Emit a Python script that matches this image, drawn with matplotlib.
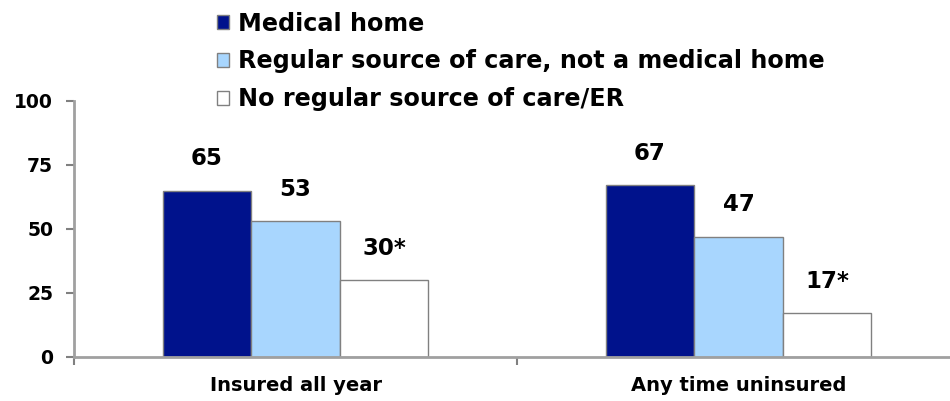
import numpy as np
import matplotlib.pyplot as plt
from matplotlib.patches import Patch

categories = ["Insured all year", "Any time uninsured"]
series = ["Medical home", "Regular source of care, not a medical home",
          "No regular source of care/ER"]
medical_home = [65, 67]
regular_source = [53, 47]
no_regular = [30, 17]
value_labels = [["65", "67"], ["53", "47"], ["30*", "17*"]]
y_ticks = [0, 25, 50, 75, 100]

colors = ["#00128c", "#a8d6fe", "#ffffff"]
edge = "#808080"

# wide bold font to mimic the stretched slide text
plt.rcParams['font.family'] = ['DejaVu Sans']

fig = plt.figure(figsize=(9.5, 4.01), dpi=100)
ax = fig.add_axes([74 / 950, 44 / 401, 886 / 950, 256 / 401])

x = np.arange(len(categories))
w = 0.2
vals = [medical_home, regular_source, no_regular]
for i, (v, c) in enumerate(zip(vals, colors)):
    pos = x + (i - 1) * w
    ax.bar(pos, v, width=w, color=c, edgecolor=edge, linewidth=1)
    for p, val, lab in zip(pos, v, value_labels[i]):
        ax.annotate(lab, (p, val), xytext=(0, 23), textcoords="offset points",
                    ha="center", va="center", fontsize=16.5, fontweight="bold")

ax.set_xlim(-0.5, 1.5)
ax.set_ylim(0, 100)
ax.set_yticks(y_ticks)
ax.set_yticklabels([str(t) for t in y_ticks], fontsize=13.5, fontweight="bold")
ax.set_xticks([-0.5, 0.5, 1.5])
ax.set_xticklabels([])
ax.set_xticks(x, minor=True)
ax.set_xticklabels(categories, minor=True, fontsize=14, fontweight="bold")
ax.tick_params(axis="x", which="minor", length=0, pad=14)
ax.tick_params(axis="x", which="major", length=6, color=edge, width=1.5)
ax.tick_params(axis="y", length=6, color=edge, width=1.5, pad=9)

for s in ["top", "right"]:
    ax.spines[s].set_visible(False)
for s in ["left", "bottom"]:
    ax.spines[s].set_color("#a0a0a0")
    ax.spines[s].set_linewidth(2)

handles = [Patch(facecolor=c, edgecolor=edge, label=s) for c, s in zip(colors, series)]
fig.legend(handles=handles, loc="upper left", bbox_to_anchor=(207 / 950, 1 - 2 / 401),
           frameon=False, prop={"weight": "bold", "size": 17.2},
           handlelength=0.52, handleheight=0.52, handletextpad=0.38,
           labelspacing=0.58, borderaxespad=0)

fig.savefig("out.png", dpi=100)
